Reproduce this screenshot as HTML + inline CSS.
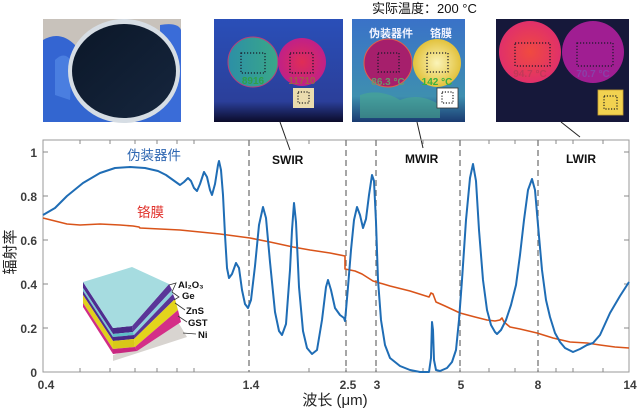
<!DOCTYPE html>
<html><head><meta charset="utf-8"><style>
html,body{margin:0;padding:0;background:#fff;}
svg{display:block;}
text{font-family:"Liberation Sans","Noto Sans CJK SC",sans-serif;}
</style></head><body>
<svg width="639" height="409" viewBox="0 0 639 409" xmlns="http://www.w3.org/2000/svg">
<defs>
<linearGradient id="g2bg" x1="0" y1="0" x2="0" y2="1"><stop offset="0" stop-color="#2a4fb8"/><stop offset="0.8" stop-color="#2b3f9a"/><stop offset="1" stop-color="#0b0b2a"/></linearGradient>
<linearGradient id="c1" x1="0" y1="0" x2="1" y2="0"><stop offset="0" stop-color="#2c8fa6"/><stop offset="1" stop-color="#3aa888"/></linearGradient>
<radialGradient id="c2"><stop offset="0" stop-color="#e02d55"/><stop offset="1" stop-color="#c02088"/></radialGradient>
<linearGradient id="g3bg" x1="0" y1="0" x2="0" y2="1"><stop offset="0" stop-color="#3a72c8"/><stop offset="0.75" stop-color="#3e8fb0"/><stop offset="1" stop-color="#1a3a70"/></linearGradient>
<radialGradient id="c4"><stop offset="0" stop-color="#fbf4b8"/><stop offset="1" stop-color="#e2c23c"/></radialGradient>
<radialGradient id="c5"><stop offset="0" stop-color="#f04a40"/><stop offset="1" stop-color="#e0306a"/></radialGradient>
<linearGradient id="wf" x1="0" y1="0" x2="1" y2="1"><stop offset="0" stop-color="#0b1728"/><stop offset="1" stop-color="#16263e"/></linearGradient>
</defs>

<!-- Photo 1 -->
<rect x="43" y="19" width="138" height="103" fill="#c8c2bb"/>
<path d="M43 40 Q60 30 75 45 L80 122 L43 122 Z" fill="#3465d2"/>
<path d="M43 90 L181 90 L181 122 L43 122 Z" fill="#3366d0"/>
<path d="M160 25 Q178 22 181 30 L181 122 L160 122 Z" fill="#3a6cd8"/>
<path d="M55 60 Q65 50 72 62 L70 100 L55 95 Z" fill="#4a7ee0"/>
<ellipse cx="124" cy="71" rx="56" ry="52" fill="#d6dde4"/>
<ellipse cx="124" cy="71" rx="52" ry="47" fill="url(#wf)"/>

<!-- Image 2 -->
<rect x="214" y="19" width="129" height="103" fill="url(#g2bg)"/>
<circle cx="253" cy="62" r="25" fill="url(#c1)" stroke="#b8407a" stroke-width="1"/>
<circle cx="302" cy="62" r="24" fill="url(#c2)"/>
<rect x="241" y="53" width="24" height="20" fill="none" stroke="#1a1a2a" stroke-width="1.2" stroke-dasharray="1.2,1.8"/>
<rect x="290" y="53" width="23" height="20" fill="none" stroke="#1a1a2a" stroke-width="1.2" stroke-dasharray="1.2,1.8"/>
<text x="253" y="84" font-size="10" font-weight="bold" fill="#2fa048" text-anchor="middle">8916</text>
<text x="302" y="84" font-size="10" font-weight="bold" fill="#a06048" text-anchor="middle">11710</text>
<rect x="293" y="88" width="21" height="20" fill="#eadcae"/>
<rect x="298" y="92" width="11" height="11" fill="none" stroke="#222" stroke-width="1.2" stroke-dasharray="1.2,1.6"/>

<!-- Image 3 -->
<rect x="352" y="19" width="113" height="103" fill="url(#g3bg)"/>
<path d="M360 95 Q380 88 400 100 Q420 92 440 105 L440 118 L360 118 Z" fill="#4aa890" opacity="0.6"/>
<circle cx="388" cy="63" r="24" fill="#a61f6c" stroke="#e0604a" stroke-width="1"/>
<circle cx="437" cy="63" r="24" fill="url(#c4)"/>
<rect x="378" y="53" width="21" height="19" fill="none" stroke="#1a1a2a" stroke-width="1.2" stroke-dasharray="1.2,1.8"/>
<rect x="427" y="53" width="21" height="19" fill="none" stroke="#1a1a2a" stroke-width="1.2" stroke-dasharray="1.2,1.8"/>
<text x="391" y="37" font-size="11" font-weight="bold" fill="#f2f4ff" text-anchor="middle">伪装器件</text>
<text x="441" y="37" font-size="11" font-weight="bold" fill="#f2f4ff" text-anchor="middle">铬膜</text>
<text x="388" y="85" font-size="10" font-weight="bold" fill="#6a9a6a" text-anchor="middle">86.3 °C</text>
<text x="437" y="85" font-size="10" font-weight="bold" fill="#3ab040" text-anchor="middle">142 °C</text>
<rect x="437" y="88" width="21" height="20" fill="#ffffff" stroke="#333" stroke-width="0.8"/>
<rect x="442" y="92" width="11" height="11" fill="none" stroke="#222" stroke-width="1.2" stroke-dasharray="1.2,1.6"/>

<!-- Image 4 -->
<rect x="496" y="19" width="133" height="103" fill="#16183a"/>
<circle cx="530" cy="52" r="31" fill="url(#c5)"/>
<circle cx="593" cy="52" r="31" fill="#a01e92"/>
<rect x="515" y="43" width="35" height="23" fill="none" stroke="#1a1a2a" stroke-width="1.2" stroke-dasharray="1.2,1.8"/>
<rect x="577" y="43" width="36" height="23" fill="none" stroke="#1a1a2a" stroke-width="1.2" stroke-dasharray="1.2,1.8"/>
<text x="530" y="77" font-size="10" font-weight="bold" fill="#c03a58" text-anchor="middle">94.7 °C</text>
<text x="593" y="77" font-size="10" font-weight="bold" fill="#8a40a8" text-anchor="middle">70.7 °C</text>
<rect x="598" y="90" width="25" height="25" fill="#f2d250" stroke="#c8a030" stroke-width="0.8"/>
<rect x="604" y="96" width="13" height="13" fill="none" stroke="#222" stroke-width="1.2" stroke-dasharray="1.2,1.6"/>

<text x="372" y="13" font-size="13" fill="#111">实际温度：200 °C</text>

<!-- connector lines -->
<line x1="280" y1="122" x2="290" y2="150" stroke="#222" stroke-width="1"/>
<line x1="417" y1="122" x2="423" y2="148" stroke="#222" stroke-width="1"/>
<line x1="561" y1="122" x2="580" y2="137" stroke="#222" stroke-width="1"/>

<!-- axes box -->
<rect x="43" y="140" width="586" height="232" fill="none" stroke="#9a9a9a" stroke-width="1"/>
<g stroke="#888" stroke-width="1">
<line x1="43" y1="152" x2="48" y2="152"/><line x1="43" y1="196" x2="48" y2="196"/><line x1="43" y1="240" x2="48" y2="240"/><line x1="43" y1="284" x2="48" y2="284"/><line x1="43" y1="328" x2="48" y2="328"/>
<line x1="629" y1="152" x2="624" y2="152"/><line x1="629" y1="196" x2="624" y2="196"/><line x1="629" y1="240" x2="624" y2="240"/><line x1="629" y1="284" x2="624" y2="284"/><line x1="629" y1="328" x2="624" y2="328"/>
<path d="M80 372v-4M110 372v-4M135 372v-4M157 372v-4M177 372v-4M194 372v-4M309 372v-4M346 372v-4M376 372v-4M423 372v-4M460 372v-4M489 372v-4M515 372v-4M538 372v-4M556 372v-4M573 372v-4M603 372v-4"/>
<path d="M80 140v4M110 140v4M135 140v4M157 140v4M177 140v4M194 140v4M309 140v4M346 140v4M376 140v4M423 140v4M460 140v4M489 140v4M515 140v4M538 140v4M556 140v4M573 140v4M603 140v4"/>
</g>

<!-- dashed region lines -->
<g stroke="#777" stroke-width="1.3" stroke-dasharray="6,4">
<line x1="249" y1="140" x2="249" y2="372"/>
<line x1="346" y1="140" x2="346" y2="372"/>
<line x1="376" y1="140" x2="376" y2="372"/>
<line x1="460" y1="140" x2="460" y2="372"/>
<line x1="538" y1="140" x2="538" y2="372"/>
</g>

<!-- tick labels -->
<g font-size="12" font-weight="bold" fill="#3d3d3d" text-anchor="end">
<text x="37" y="157">1</text><text x="37" y="201">0.8</text><text x="37" y="245">0.6</text><text x="37" y="289">0.4</text><text x="37" y="333">0.2</text><text x="37" y="377">0</text>
</g>
<g font-size="12" font-weight="bold" fill="#3d3d3d" text-anchor="middle">
<text x="46" y="389">0.4</text><text x="251" y="389">1.4</text><text x="348" y="389">2.5</text><text x="377" y="389">3</text><text x="461" y="389">5</text><text x="538" y="389">8</text><text x="630" y="389">14</text>
</g>
<text x="335" y="405" font-size="15" fill="#222" text-anchor="middle">波长 (μm)</text>
<text transform="translate(15,252) rotate(-90)" font-size="15" fill="#222" text-anchor="middle">辐射率</text>

<!-- region labels -->
<g font-size="12" font-weight="bold" fill="#111">
<text x="272" y="164">SWIR</text><text x="405" y="163">MWIR</text><text x="566" y="163">LWIR</text>
</g>
<text x="127" y="160" font-size="13.5" fill="#2f67b2">伪装器件</text>
<text x="137" y="217" font-size="13.5" fill="#e0302a">铬膜</text>

<!-- inset -->
<g>
<polygon points="113,355 137,348 178,322 187,337 113,361" fill="#d8d4d0"/>
<!-- right face layers G->R (slanted outward with depth) -->
<polygon points="132,326 169,284 172,290 133,332" fill="#5a3598"/>
<polygon points="133,332 172,290 173,294 134,335" fill="#8fd0dc"/>
<polygon points="134,335 173,294 175,299 134,339" fill="#5a3598"/>
<polygon points="134,339 175,299 178,310 135,347" fill="#e3d41c"/>
<polygon points="135,347 178,310 181,322 137,351" fill="#d42e88"/>
<!-- front notch F->G -->
<polygon points="113,328 132,326 133,332 113,334" fill="#4a2a88"/>
<polygon points="113,334 133,332 134,335 113,337" fill="#5ec0c8"/>
<polygon points="113,337 134,335 134,339 113,341" fill="#4a2a88"/>
<polygon points="113,341 134,339 135,347 113,349" fill="#d8c818"/>
<polygon points="113,349 135,347 137,351 113,354" fill="#c82880"/>
<!-- left face L->F -->
<polygon points="83,282 113,328 113,334 83,288" fill="#4f2d90"/>
<polygon points="83,288 113,334 113,337 83,291" fill="#7ac8d4"/>
<polygon points="83,291 113,337 113,341 83,295" fill="#4f2d90"/>
<polygon points="83,295 113,341 113,349 83,303" fill="#e0d01c"/>
<polygon points="83,303 113,349 113,354 83,307" fill="#d02c86"/>
<!-- top face -->
<polygon points="83,282 132,267 169,284 132,326 113,328" fill="#a6dce0"/>
<g stroke="#333" stroke-width="0.8" fill="none">
<path d="M169,285 L176,283 L172,292"/>
<path d="M172,292 L179,297 L174,300"/>
<path d="M175,303 L185,310"/>
<path d="M178,316 L187,322"/>
<path d="M183,333 L196,334"/>
</g>
<g font-size="9.5" font-weight="bold" fill="#111">
<text x="178" y="288">Al₂O₃</text>
<text x="182" y="299">Ge</text>
<text x="186" y="314">ZnS</text>
<text x="188" y="326">GST</text>
<text x="198" y="338">Ni</text>
</g>
</g>

<!-- orange curve -->
<polyline fill="none" stroke="#d9541a" stroke-width="1.6" stroke-linejoin="round" points="43,218 55,221 67,224 80,225 100,224 120,225 133,226 139,227 140,228 160,229 180,230 200,232 220,234 250,238 270,242 293,247 310,250 330,253 345,256 345,269 350,270 355,271 362,274 373,281 390,286 410,291 429,297 431,293 433,294 436,302 445,306 460,313 475,317 487,320 495,321 500,320 502,318 504,322 510,327 520,329 537,333 553,338 570,342 587,343 600,345 615,347 629,348"/>

<!-- blue curve -->
<polyline fill="none" stroke="#1f6db5" stroke-width="2" stroke-linejoin="round" points="43,215 55,208 67,196 83,183 100,173 115,168 130,167 145,168 158,171 166,175 173,180 180,185 184,182 188,178 191,181 194,188 197,191 200,184 204,172 207,177 210,190 212,195 215,184 218,165 219,161 221,170 223,195 225,235 227,268 229,278 232,274 236,263 239,268 242,290 245,304 248,308 251,300 255,266 259,225 263,207 266,218 270,262 275,312 279,331 282,335 286,324 290,270 292,230 294,203 296,222 299,287 303,331 307,348 312,354 317,350 322,320 326,287 328,280 331,290 335,308 340,315 344,318 345,321 346,310 348,287 351,250 354,220 357,207 360,215 363,228 366,219 369,195 372,175 374,181 376,222 378,280 381,320 385,345 390,358 400,366 410,370 420,372 429,372 431,358 432,322 433,330 434,360 436,370 440,371 447,368 452,362 456,350 459,320 462,280 466,220 470,178 473,164 476,181 479,230 483,280 487,310 491,325 495,332 497,334 501,330 506,320 511,305 516,285 520,255 524,220 528,190 532,179 535,190 538,225 542,270 546,300 550,317 555,333 560,342 565,348 573,352 580,349 587,345 593,343 600,335 610,313 620,296 629,282"/>
</svg>
</body></html>
